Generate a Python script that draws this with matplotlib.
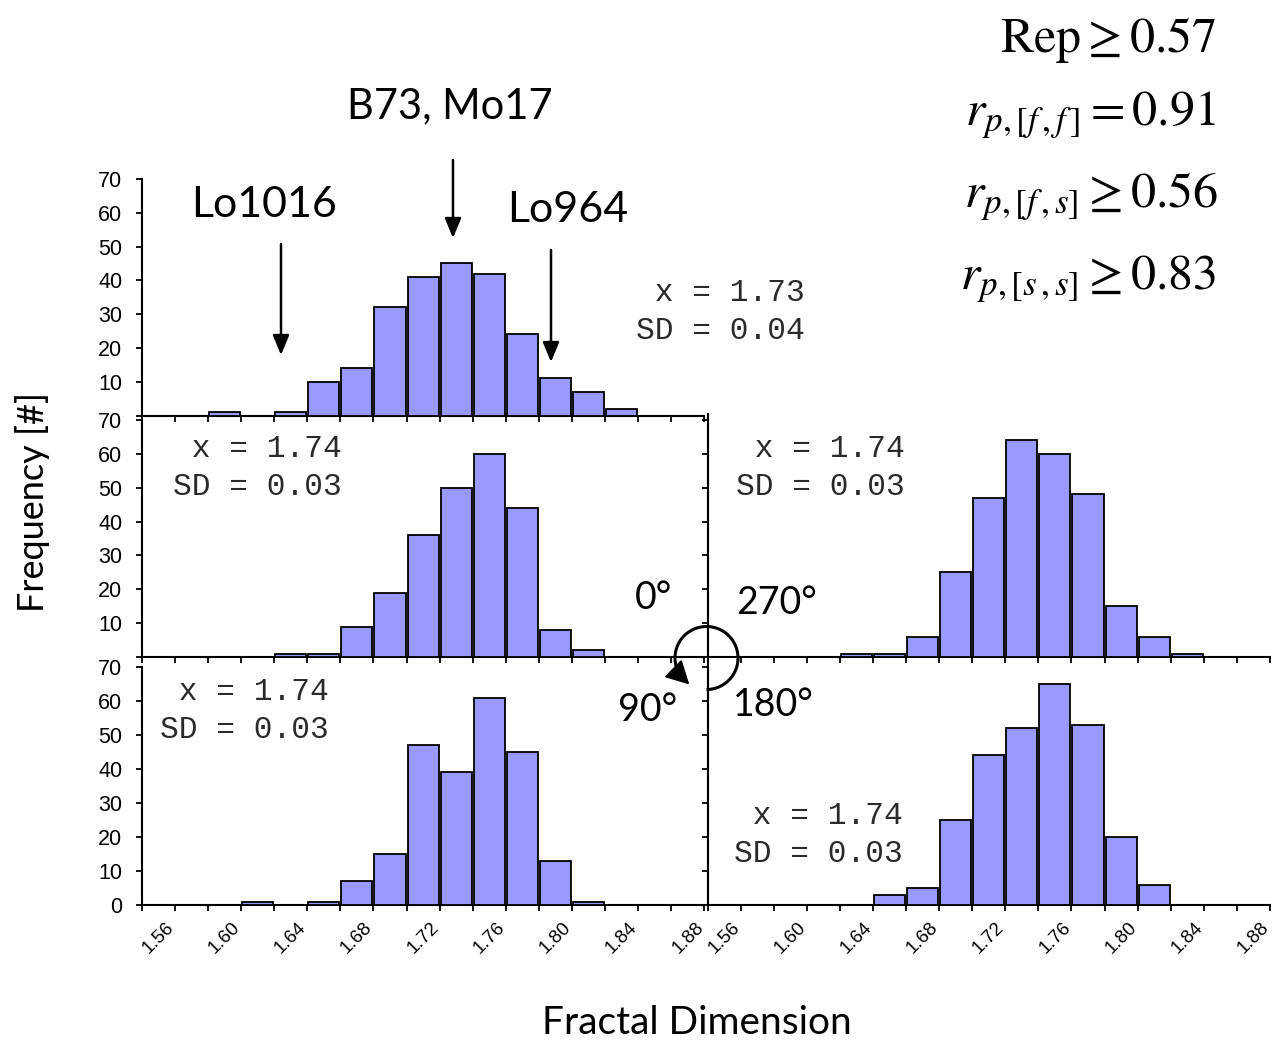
import matplotlib
matplotlib.use('Agg')
import matplotlib.pyplot as plt
import numpy as np

plt.rcParams['mathtext.fontset'] = 'stix'
plt.rcParams['font.family'] = ['Liberation Sans', 'DejaVu Sans']

# ---- data ----
bin_centers = [1.56, 1.58, 1.60, 1.62, 1.64, 1.66, 1.68, 1.70, 1.72,
               1.74, 1.76, 1.78, 1.80, 1.82, 1.84, 1.86, 1.88]
label_centers = [1.56, 1.60, 1.64, 1.68, 1.72, 1.76, 1.80, 1.84, 1.88]
x_labels = ['1.56', '1.60', '1.64', '1.68', '1.72', '1.76', '1.80', '1.84', '1.88']

counts_all = [0, 0, 1, 0, 1, 10, 14, 32, 41, 45, 42, 24, 11, 7, 2, 0, 0]
counts_0 = [0, 0, 0, 0, 1, 1, 9, 19, 36, 50, 60, 44, 8, 2, 0, 0, 0]
counts_270 = [0, 0, 0, 0, 1, 1, 6, 25, 47, 64, 60, 48, 15, 6, 1, 0, 0]
counts_90 = [0, 0, 0, 1, 0, 1, 7, 15, 47, 39, 61, 45, 13, 1, 0, 0, 0]
counts_180 = [0, 0, 0, 0, 0, 3, 5, 25, 44, 52, 65, 53, 20, 6, 0, 0, 0]

mean_vals = ['1.73', '1.74', '1.74', '1.74', '1.74']
sd_vals = ['0.04', '0.03', '0.03', '0.03', '0.03']

W, H = 1272, 1040
fig = plt.figure(figsize=(12.72, 10.4), dpi=100)
fig.patch.set_facecolor('white')

BAR = '#9999FF'
SANS = ['Lato', 'DejaVu Sans']


def add_px_axes(x0, y0, x1, y1):
    return fig.add_axes([x0 / W, 1 - y1 / H, (x1 - x0) / W, (y1 - y0) / H])


def draw_hist(ax, counts, ylab_mode, xlabels):
    ax.bar(bin_centers, counts, width=0.0188, color=BAR,
           edgecolor='black', linewidth=1.3, zorder=3)
    ax.set_xlim(bin_centers[0] - 0.01, bin_centers[-1] + 0.01)
    ax.set_ylim(0, 70)
    for s in ['top', 'right']:
        ax.spines[s].set_visible(False)
    for s in ['left', 'bottom']:
        ax.spines[s].set_linewidth(1.5)
    ax.set_facecolor('none')
    edges = [c - 0.01 for c in bin_centers] + [bin_centers[-1] + 0.01]
    ax.set_xticks(edges)
    ax.set_xticklabels([])
    ax.tick_params(axis='both', which='major', direction='out',
                   length=4, width=1.3)
    if xlabels:
        ax.set_xticks(label_centers, minor=True)
        ax.set_xticklabels(x_labels, minor=True, rotation=45,
                           ha='center', va='top')
        ax.tick_params(axis='x', which='minor', length=0, pad=10,
                       labelsize=13.5)
    yt = list(range(0, 71, 10))
    ax.set_yticks(yt)
    if ylab_mode == 'none':
        ax.set_yticklabels([])
    elif ylab_mode == 'no0':
        ax.set_yticklabels(['' if v == 0 else str(v) for v in yt])
    else:
        ax.set_yticklabels([str(v) for v in yt])
    ax.tick_params(axis='y', pad=10, labelsize=15.5)


LX0, LX1 = 141.7, 704.5
RX0, RX1 = 707.5, 1270

ax_top = add_px_axes(LX0, 179, LX1, 415.5)
ax_0 = add_px_axes(LX0, 420, LX1, 657)
ax_270 = add_px_axes(RX0, 420, RX1, 657)
ax_90 = add_px_axes(LX0, 667, LX1, 905)
ax_180 = add_px_axes(RX0, 667, RX1, 905)

draw_hist(ax_top, counts_all, 'no0', False)
draw_hist(ax_0, counts_0, 'no0', False)
draw_hist(ax_270, counts_270, 'none', False)
draw_hist(ax_90, counts_90, 'all', True)
draw_hist(ax_180, counts_180, 'none', True)

# ---- overlay in pixel coordinates for annotations ----
ov = fig.add_axes([0, 0, 1, 1])
ov.set_xlim(0, W)
ov.set_ylim(H, 0)
ov.axis('off')

# continuous right-hand y axis line
ov.plot([RX0, RX0], [414, 905], color='black', lw=1.5)

# mean / SD boxes
stat_pos = [(636, 312), (173, 468), (736, 468), (160, 711), (734, 835)]
for (sx, sy), m, sd in zip(stat_pos, mean_vals, sd_vals):
    ov.text(sx, sy, f' x = {m}\nSD = {sd}', ha='left', va='center',
            family=['Liberation Mono', 'DejaVu Sans Mono'], fontsize=22.5,
            color='#2a2a2a', linespacing=1.38)

# cultivar labels and arrows
ov.text(450, 106, 'B73, Mo17', ha='center', va='center', fontsize=30, family=SANS)
ov.text(264, 205, 'Lo1016', ha='center', va='center', fontsize=31, family=SANS)
ov.text(568, 210, 'Lo964', ha='center', va='center', fontsize=31, family=SANS)
arrow_kw = dict(arrowstyle='-|>,head_length=0.6,head_width=0.25', color='black',
                lw=1.8, mutation_scale=20, shrinkA=0, shrinkB=0)
for ax_, y0, y1 in [(453, 160, 238), (281, 244, 355), (551, 250, 362)]:
    ov.annotate('', xy=(ax_, y1), xytext=(ax_, y0), arrowprops=arrow_kw)

# rotation labels
ov.text(654, 598, '0°', ha='center', va='center', fontsize=27, family=SANS)
ov.text(777, 603, '270°', ha='center', va='center', fontsize=27, family=SANS)
ov.text(648, 710, '90°', ha='center', va='center', fontsize=27, family=SANS)
ov.text(773, 705, '180°', ha='center', va='center', fontsize=27, family=SANS)

# rotation arc arrow around the origin
cx, cy, r = 706.5, 658, 31.5
t = np.radians(np.linspace(-90, 218, 120))
ov.plot(cx + r * np.cos(t), cy - r * np.sin(t), color='black', lw=2.2,
        solid_capstyle='butt')
t1, t2 = np.radians(214), np.radians(237)
ov.annotate('', xy=(cx + r * np.cos(t2), cy - r * np.sin(t2)),
            xytext=(cx + r * np.cos(t1), cy - r * np.sin(t1)),
            arrowprops=dict(arrowstyle='-|>,head_length=0.75,head_width=0.4',
                            color='black', lw=1.5, mutation_scale=19,
                            shrinkA=0, shrinkB=0))

# statistics on the right
ov.text(1216, 52, r'$\mathrm{Rep} \geq 0.57$', ha='right', va='baseline', fontsize=36)
ov.text(1216, 125, r'$r_{p,[f\,,f\,]} = 0.91$', ha='right', va='baseline', fontsize=36)
ov.text(1218, 207, r'$r_{p,[f\,,s]} \geq 0.56$', ha='right', va='baseline', fontsize=36)
ov.text(1216, 289, r'$r_{p,[s\,,s]} \geq 0.83$', ha='right', va='baseline', fontsize=36)

# axis titles
ov.text(33, 502, 'Frequency [#]', ha='center', va='center', rotation=90,
        fontsize=26, family=SANS)
ov.text(697, 1023, 'Fractal Dimension', ha='center', va='center',
        fontsize=28, family=SANS)

fig.savefig('out.png', dpi=100, facecolor='white')
